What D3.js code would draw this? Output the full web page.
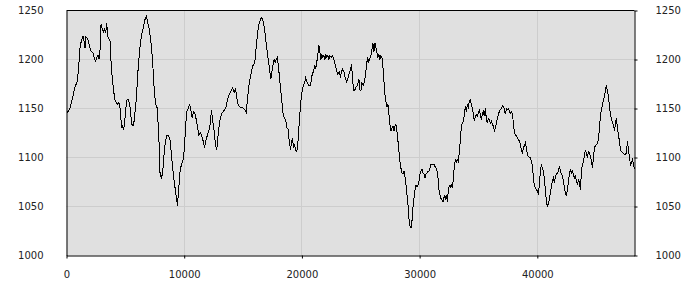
<!DOCTYPE html>
<html>
<head>
<meta charset="utf-8">
<script src="https://cdn.jsdelivr.net/npm/d3@7"></script>
<style>
  html, body { margin: 0; padding: 0; background: #fff; }
  svg { display: block; }
  .axis text { font-family: "DejaVu Sans", sans-serif; font-size: 10px; fill: #222; }
</style>
</head>
<body>
<svg id="chart" width="700" height="300"></svg>
<script>
const yTicks = [1000, 1050, 1100, 1150, 1200, 1250];
const xTicks = [0, 10000, 20000, 30000, 40000];
const yDomain = [1000, 1250];

// [x, value] samples
const series = [
[0,1145],[269,1149],[411,1156],[553,1163],[694,1171],[893,1177],[978,1185],[1063,1197],[1120,1210],[1261,1219],
[1403,1224],[1488,1219],[1573,1212],[1630,1223],[1743,1222],[1857,1219],[1970,1213],[2112,1208],[2253,1207],[2395,1200],
[2480,1198],[2593,1203],[2678,1204],[2763,1201],[2849,1210],[2934,1236],[3047,1231],[3160,1228],[3245,1232],[3330,1227],
[3415,1237],[3500,1224],[3614,1221],[3699,1219],[3812,1191],[3897,1180],[4011,1168],[4096,1159],[4237,1156],[4322,1154],
[4407,1156],[4521,1154],[4606,1144],[4662,1131],[4747,1132],[4861,1129],[4946,1137],[5031,1149],[5144,1159],[5258,1159],
[5371,1154],[5456,1144],[5541,1134],[5655,1132],[5740,1137],[5825,1147],[5938,1161],[6051,1185],[6165,1202],[6278,1217],
[6391,1226],[6505,1231],[6618,1239],[6732,1243],[6788,1244],[6873,1239],[7015,1232],[7128,1222],[7242,1210],[7355,1190],
[7468,1166],[7582,1154],[7695,1151],[7809,1130],[7894,1106],
[7922,1086],[8064,1078],[8177,1086],[8290,1103],[8404,1117],[8546,1123],[8687,1122],[8801,1118],[8914,1103],[9027,1089],
[9141,1076],[9282,1064],[9424,1051],[9538,1069],[9651,1086],[9764,1093],[9906,1098],[10019,1109],[10104,1130],[10218,1147],
[10331,1150],[10445,1154],[10530,1152],[10615,1144],[10700,1140],[10785,1147],[10898,1146],[10983,1141],[11125,1132],[11238,1123],
[11380,1125],[11493,1122],[11607,1117],[11720,1110],[11833,1117],[11975,1123],[12089,1127],[12202,1134],[12315,1148],[12429,1137],
[12542,1127],[12655,1113],[12769,1108],[12882,1123],[12996,1135],[13109,1142],[13222,1146],[13336,1147],[13449,1149],[13562,1152],
[13676,1159],[13789,1163],[13902,1166],[14016,1169],[14129,1171],[14243,1166],[14356,1171],[14469,1161],[14583,1154],[14696,1152],
[14810,1151],[14923,1151],[15036,1150],[15150,1149],[15263,1146],[15376,1159],[15490,1173],[15603,1181],[15716,1188],[15801,1193],
[16000,1197],[16113,1212],[16227,1226],[16340,1236],[16482,1241],[16595,1243],[16708,1239],[16822,1232],[16935,1219],[17049,1208],
[17162,1198],[17275,1188],[17360,1180],[17445,1187],[17559,1195],[17644,1200],[17729,1197],[17814,1200],[17899,1202],[17984,1195],
[18069,1185],[18182,1171],[18296,1157],[18409,1144],[18522,1140],[18636,1137],[18721,1130],[18834,1129],[18919,1117],[19033,1108],
[19118,1115],[19203,1120],[19288,1110],[19373,1114],[19458,1107],[19543,1106],[19628,1110],[19713,1125],[19798,1140],[19883,1154],
[19996,1166],[20110,1173],[20223,1176],[20308,1181],[20393,1178],[20478,1176],[20563,1174],[20677,1173],[20762,1176],[20875,1185],
[20988,1188],[21073,1193],[21158,1190],[21272,1198],[21357,1205],[21442,1215],[21527,1208],[21612,1200],[21697,1205],[21782,1202],
[21867,1204],[21952,1200],[22037,1205],[22122,1202],[22207,1204],[22292,1200],[22377,1204],[22491,1202],[22604,1204],[22717,1200],
[22831,1195],[22944,1188],[23057,1185],[23171,1187],[23284,1183],[23369,1188],[23454,1190],[23568,1188],[23681,1181],[23794,1177],
[23908,1181],
[24050,1187],[24163,1192],[24220,1195],[24305,1180],[24389,1169],[24474,1168],[24559,1171],[24673,1173],[24758,1176],[24843,1180],
[24928,1169],[25013,1168],[25098,1176],[25211,1174],[25325,1178],[25410,1185],[25495,1195],[25580,1202],[25665,1198],[25750,1200],
[25863,1204],[25948,1210],[26033,1217],[26118,1208],[26203,1217],[26288,1212],[26373,1207],[26458,1202],[26544,1205],[26629,1200],
[26714,1204],[26799,1202],[26884,1192],[26969,1178],[27054,1164],[27139,1157],[27224,1152],[27309,1154],[27394,1144],[27479,1134],
[27564,1127],[27649,1130],[27734,1132],[27819,1127],[27904,1132],[27989,1134],[28074,1127],[28159,1117],[28244,1106],[28329,1096],
[28414,1089],[28499,1084],[28584,1083],[28669,1086],[28754,1081],[28839,1072],[28924,1062],[29009,1052],[29094,1038],[29180,1030],
[29265,1028],[29350,1035],[29435,1049],[29520,1058],[29605,1067],[29690,1072],[29775,1070],[29860,1072],[29945,1076],[30030,1083],
[30115,1086],[30200,1088],[30285,1084],[30370,1083],[30455,1079],[30540,1083],[30625,1084],[30710,1086],[30795,1086],[30880,1089],
[30965,1093],[31050,1093],[31135,1093],[31220,1093],[31305,1091],[31390,1089],[31475,1086],[31560,1079],[31645,1067],[31731,1062],
[31816,1058],[31901,1057],[31986,1055],
[32099,1061],[32184,1058],[32269,1062],[32354,1055],[32439,1066],[32524,1071],[32609,1070],[32694,1072],[32779,1069],[32865,1078],
[32950,1091],[33035,1098],[33119,1095],[33204,1098],[33289,1096],[33374,1106],[33459,1117],[33544,1132],[33629,1135],[33714,1137],
[33799,1144],[33884,1152],[33969,1147],[34055,1154],[34140,1150],[34225,1158],[34310,1159],[34395,1154],[34480,1150],[34565,1144],
[34650,1137],[34735,1142],[34820,1144],[34905,1142],[34990,1145],[35075,1149],[35160,1144],[35245,1138],[35330,1144],[35415,1147],
[35500,1142],[35586,1150],[35671,1139],[35756,1135],[35841,1140],[35926,1139],[36011,1135],[36096,1137],[36181,1134],[36266,1132],
[36351,1127],[36436,1130],[36521,1135],[36606,1140],[36691,1144],[36776,1147],[36861,1149],[36946,1150],[37031,1153],[37117,1152],
[37202,1149],[37287,1144],[37372,1150],[37457,1149],[37542,1150],[37627,1147],[37712,1145],[37797,1147],[37882,1145],[37967,1135],
[38052,1125],[38137,1123],[38222,1122],[38308,1120],[38393,1118],[38478,1117],[38563,1113],[38648,1108],[38733,1105],[38818,1110],
[38903,1112],[38988,1115],[39073,1110],[39158,1103],[39243,1101],[39328,1100],[39413,1100],[39498,1096],[39583,1091],[39668,1079],
[39753,1071],[39839,1069],[39924,1067],[40009,1066],[40094,1062],
[40177,1074],[40262,1086],[40347,1093],[40432,1089],[40517,1086],[40602,1078],[40687,1066],[40772,1055],[40857,1050],[40942,1052],
[41027,1058],[41112,1064],[41197,1070],[41283,1076],[41368,1079],[41453,1074],[41538,1081],[41623,1083],[41708,1084],[41793,1086],
[41878,1091],[41963,1086],[42048,1083],[42133,1081],[42218,1076],[42303,1069],[42388,1064],[42473,1061],[42558,1067],[42643,1076],
[42728,1083],[42813,1088],[42898,1084],[42983,1086],[43068,1083],[43153,1079],[43238,1081],[43323,1076],[43408,1072],[43493,1078],
[43578,1074],[43663,1067],[43748,1086],[43833,1093],[43918,1095],[44003,1103],[44089,1108],[44174,1103],[44259,1101],[44344,1106],
[44429,1105],[44514,1101],[44599,1096],[44684,1089],[44769,1100],[44854,1110],[44939,1112],[45024,1113],[45109,1115],[45194,1118],
[45279,1130],[45364,1144],[45449,1149],[45534,1154],[45619,1158],[45704,1163],[45789,1169],[45874,1174],[45959,1166],[46045,1163],
[46130,1152],[46215,1144],[46300,1139],[46385,1135],[46470,1134],[46555,1127],[46640,1135],[46725,1140],[46810,1130],[46895,1122],
[46980,1117],[47065,1108],[47150,1106],[47235,1105],[47320,1104],[47405,1103],[47490,1103],[47575,1105],[47661,1117],[47746,1106],
[47831,1101],[47916,1091],[48001,1095],[48086,1098],[48171,1093],[48256,1088]
];

const svg = d3.select("#chart");
const marginLeft = 66.5, marginTop = 10.5, plotW = 568, plotH = 245;

const x = d3.scaleLinear().domain([0, d3.max(series, d => d[0])]).range([0, plotW]);
const y = d3.scaleLinear().domain(yDomain).range([plotH, 0]);

const g = svg.append("g").attr("transform", `translate(${marginLeft},${marginTop})`);

g.append("rect").attr("x", 0).attr("y", 0).attr("width", plotW).attr("height", plotH).attr("fill", "#e0e0e0");

// grid
g.append("g").selectAll("line").data(yTicks.filter(v => v > yDomain[0] && v < yDomain[1])).join("line")
  .attr("x1", 0).attr("x2", plotW)
  .attr("y1", d => Math.round(y(d))).attr("y2", d => Math.round(y(d)))
  .attr("stroke", "#cdcdcd").attr("stroke-width", 1);
g.append("g").selectAll("line").data(xTicks.filter(v => v > 0)).join("line")
  .attr("x1", d => Math.round(x(d))).attr("x2", d => Math.round(x(d)))
  .attr("y1", 0).attr("y2", plotH)
  .attr("stroke", "#cdcdcd").attr("stroke-width", 1);

// line
const line = d3.line().x(d => x(d[0])).y(d => y(d[1]));
g.append("path").datum(series).attr("d", line)
  .attr("fill", "none").attr("stroke", "#000").attr("stroke-width", 1)
  .attr("shape-rendering", "crispEdges");

// axes
const fmt = d3.format("d");
const axL = g.append("g").attr("class", "axis")
  .call(d3.axisLeft(y).tickValues(yTicks).tickFormat(fmt).tickSize(0).tickPadding(23));
const axR = g.append("g").attr("class", "axis").attr("transform", `translate(${plotW},0)`)
  .call(d3.axisRight(y).tickValues(yTicks).tickFormat(fmt).tickSizeInner(3).tickSizeOuter(0).tickPadding(18));
const axB = g.append("g").attr("class", "axis").attr("transform", `translate(0,${plotH})`)
  .call(d3.axisBottom(x).tickValues(xTicks).tickFormat(fmt).tickSizeInner(3).tickSizeOuter(0).tickPadding(12));
g.selectAll(".axis path.domain").attr("stroke", "#000");
g.selectAll(".axis .tick line").attr("stroke", "#000");
axL.selectAll(".tick line").remove();

g.append("line").attr("x1", 0).attr("x2", plotW).attr("y1", 0).attr("y2", 0).attr("stroke", "#000");
</script>
</body>
</html>
